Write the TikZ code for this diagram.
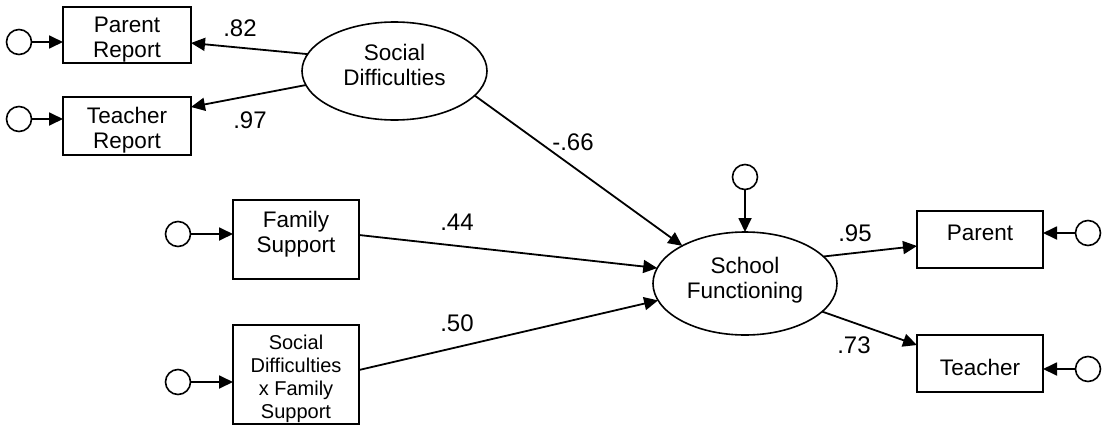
\documentclass[tikz,border=0pt]{standalone}
\usepackage{fontspec}
\setmainfont{Liberation Sans}
\usetikzlibrary{shapes.geometric,arrows.meta}
\begin{document}
\begin{tikzpicture}[x=1pt,y=-1pt,
  font=\fontsize{22.5}{25}\selectfont,
  box/.style={draw,line width=1.7pt,rectangle,inner sep=0pt,outer sep=0pt},
  lat/.style={draw,line width=1.6pt,ellipse,inner sep=0pt,outer sep=0pt},
  err/.style={draw,line width=1.6pt,circle,minimum size=25pt,inner sep=0pt,outer sep=0pt},
  conn/.style={line width=1.8pt,-{Triangle[length=14pt,width=13pt]}},
  coef/.style={inner sep=0pt,font=\fontsize{24}{26}\selectfont}]
\useasboundingbox (0,0) rectangle (1106,426);

% observed indicators
\node[box,minimum width=128pt,minimum height=56pt,
  label={[align=center,yshift=-5pt]center:Parent\\Report}] (pr) at (127,35) {};
\node[box,minimum width=128pt,minimum height=58pt,
  label={[align=center,yshift=-4.5pt]center:Teacher\\Report}] (tr) at (127,126) {};
\node[box,minimum width=126pt,minimum height=79pt,
  label={[align=center,yshift=5pt]center:Family\\Support}] (fs) at (296,239.5) {};
\node[box,minimum width=126pt,minimum height=99pt,
  label={[align=center,yshift=-4.5pt,font=\fontsize{20}{23}\selectfont]center:Social\\Difficulties\\x Family\\Support}] (ix) at (296,374.5) {};
\node[box,minimum width=126pt,minimum height=57pt,
  label={[yshift=7pt]center:Parent}] (pa) at (980,239.5) {};
\node[box,minimum width=126pt,minimum height=57pt,
  label={[yshift=-3.5pt]center:Teacher}] (te) at (980,363.5) {};

% latent variables
\node[lat,minimum width=185pt,minimum height=98pt,
  label={[align=center,yshift=6pt]center:Social\\Difficulties}] (sd) at (394.5,71) {};
\node[lat,minimum width=184pt,minimum height=103pt,
  label={[align=center,yshift=3.5pt]center:School\\Functioning}] (sf) at (745,283.5) {};

% error terms
\node[err] (e1) at (19,42) {};
\node[err] (e2) at (19,119) {};
\node[err] (e3) at (178,234) {};
\node[err] (e4) at (178,382) {};
\node[err] (e5) at (745,177) {};
\node[err] (e6) at (1088,233) {};
\node[err] (e7) at (1088,369) {};

\draw[conn] (e1) -- (e1 -| pr.west);
\draw[conn] (e2) -- (e2 -| tr.west);
\draw[conn] (e3) -- (e3 -| fs.west);
\draw[conn] (e4) -- (e4 -| ix.west);
\draw[conn] (e5) -- (sf.north);
\draw[conn] (e6) -- (e6 -| pa.east);
\draw[conn] (e7) -- (e7 -| te.east);

% paths
\draw[conn] (sd.169) -- ([yshift=-8pt]pr.east);
\draw[conn] (sd.189) -- ([yshift=19pt]tr.east);
\draw[conn] (sd.-17) -- (sf.149.6);
\draw[conn] ([yshift=4.5pt]fs.east) -- (sf.170);
\draw[conn] ([yshift=4.5pt]ix.east) -- (sf.191);
\draw[conn] (sf.19.4) -- ([yshift=-6.5pt]pa.west);
\draw[conn] (sf.-20) -- ([yshift=18.5pt]te.west);

% coefficients
\node[coef] (c1) at (240,28) {.82};
\node[coef] (c2) at (250,120) {.97};
\node[coef] (c3) at (573,142) {-.66};
\node[coef] (c4) at (457,222) {.44};
\node[coef] (c5) at (457,323) {.50};
\node[coef] (c6) at (855,233) {.95};
\node[coef] (c7) at (854,345) {.73};
\end{tikzpicture}
\end{document}
